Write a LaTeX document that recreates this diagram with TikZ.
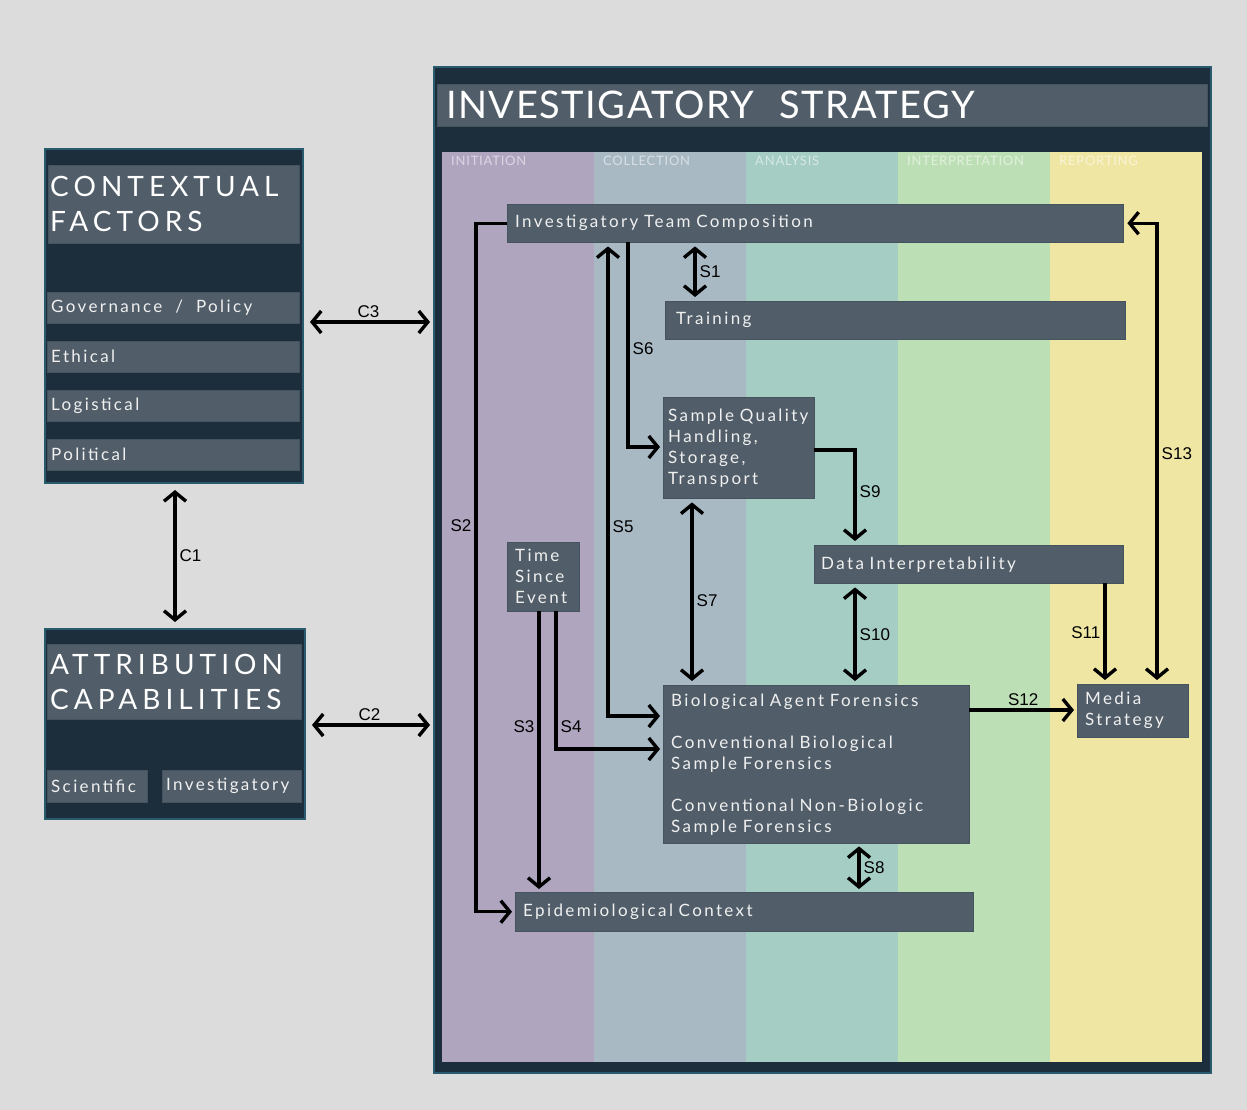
\documentclass[tikz,border=0pt]{standalone}
\usepackage{fontspec}
\setmainfont{Lato}
\newfontfamily\boxfont{Lato}[LetterSpace=14]
\newfontfamily\headfont{Lato}[LetterSpace=18]
\newfontfamily\titlefont{Lato}[LetterSpace=4]
\newfontfamily\phasefont{Lato}[LetterSpace=6]
\newfontfamily\lblfont{Liberation Sans}
\usepackage{tikz}
\usetikzlibrary{arrows.meta}

\definecolor{bggray}{HTML}{DCDCDC}
\definecolor{navy}{HTML}{1C2D3C}
\definecolor{navyedge}{HTML}{2A5A6E}
\definecolor{slate}{HTML}{515E69}
\definecolor{slateedge}{HTML}{45535E}
\definecolor{boxtext}{HTML}{F0F0F0}
\definecolor{colinit}{HTML}{AFA5BF}
\definecolor{colcoll}{HTML}{A8B9C4}
\definecolor{colanal}{HTML}{A5CDC4}
\definecolor{colinterp}{HTML}{BDDFB5}
\definecolor{colrep}{HTML}{F0E6A4}

\begin{document}
\begin{tikzpicture}[x=1pt, y=-1pt]
\tikzstyle{panel} = [draw=navyedge, line width=2pt, fill=navy, anchor=north west, inner sep=0pt]
\tikzstyle{box} = [draw=slateedge, fill=slate, text=boxtext, anchor=north west, inner xsep=8pt, inner ysep=0pt, align=left, font=\boxfont\fontsize{17}{21}\selectfont]
\tikzstyle{head} = [box, text=white, inner xsep=2pt, font=\headfont\fontsize{28}{35}\selectfont]
\tikzstyle{item} = [box, inner xsep=4pt]
\tikzstyle{lbl} = [font=\lblfont\fontsize{17}{17}\selectfont, inner sep=3pt]
\tikzstyle{collabel} = [anchor=west, inner sep=0pt, text=white, text opacity=0.55, font=\phasefont\fontsize{13}{13}\selectfont]
\tikzstyle{arr} = [line width=3.4pt, -{Straight Barb[length=9pt, width=22pt]}]
\tikzstyle{darr} = [line width=3.4pt, {Straight Barb[length=9pt, width=22pt]}-{Straight Barb[length=9pt, width=22pt]}]

\fill[bggray] (0,0) rectangle (1247,1110);
\useasboundingbox (0,0) rectangle (1247,1110);

\node[panel, minimum width=777, minimum height=1006] (mainpanel) at (433,66) {};
\node[box, text=white, inner xsep=9pt, text width=752, minimum height=42, font=\titlefont\fontsize{38}{38}\selectfont] (title) at (437,84) {INVESTIGATORY\ \ STRATEGY};

\foreach \lbl/\col [count=\i from 0] in {INITIATION/colinit, COLLECTION/colcoll, ANALYSIS/colanal, INTERPRETATION/colinterp, REPORTING/colrep} {
  \fill[\col] (442+152*\i,152) rectangle ++(152,910);
  \node[collabel] (phase\i) at (451+152*\i,161) {\lbl};
}

\node[panel, minimum width=258, minimum height=334] (ctxpanel) at (44,148) {};
\node[head, text width=247, minimum height=78] (ctxhead) at (48,165) {CONTEXTUAL\\FACTORS};
\node[item, text width=244, minimum height=31] (gov) at (47,292) {Governance\hspace{13pt}/\hspace{13pt}Policy};
\node[item, text width=244, minimum height=31] (ethical) at (47,341) {Ethical};
\node[item, text width=244, minimum height=31] (logist) at (47,390) {Logistical};
\node[item, text width=244, minimum height=31] (polit) at (47,439) {Political};

\node[panel, minimum width=260, minimum height=190] (attpanel) at (44,628) {};
\node[head, inner xsep=3pt, text width=248, minimum height=75] (atthead) at (47,644) {ATTRIBUTION\\CAPABILITIES};
\node[item, text width=92, minimum height=32] (scient) at (47,770) {Scientific};
\node[item, text width=131, minimum height=32] (investig) at (162,770) {Investigatory};

\node[box, text width=600, minimum height=38] (team) at (507,204) {Investigatory Team Composition};
\node[box, inner xsep=11pt, text width=438, minimum height=38] (training) at (665,301) {Training};
\node[box, inner xsep=5pt, text width=141, minimum height=101] (sample) at (663,397) {Sample Quality\\Handling,\\Storage,\\Transport};
\node[box, inner xsep=7pt, text width=295, minimum height=38] (data) at (814,545) {Data Interpretability};
\node[box, text width=56, minimum height=69] (time) at (507,542) {Time\\Since\\Event};
\node[box, text width=290, minimum height=158] (forens) at (663,685) {Biological Agent Forensics\\[21pt]Conventional Biological\\Sample Forensics\\[21pt]Conventional Non-Biologic\\Sample Forensics};
\node[box, text width=95, minimum height=53] (media) at (1077,684) {Media\\Strategy};
\node[box, text width=442, minimum height=39] (epi) at (515,892) {Epidemiological Context};

\draw[darr, shorten <=6pt, shorten >=3pt] (ctxpanel.east |- 0,322) -- (mainpanel.west |- 0,322) node[midway, above, lbl] {C3};
\draw[darr, shorten <=6pt, shorten >=3pt] (attpanel.east |- 0,725) -- (mainpanel.west |- 0,725) node[midway, above, lbl] {C2};
\draw[darr, shorten <=6pt, shorten >=6pt] (ctxpanel.south -| 175,0) -- (attpanel.north -| 175,0) node[midway, right, lbl] {C1};

\draw[darr, shorten <=4pt, shorten >=4pt] (team.south -| 695,0) -- (training.north -| 695,0) node[midway, right, lbl] {S1};
\draw[arr, shorten >=3pt] (team.west) -- (476,0 |- team.west) -- node[pos=0.44, left, lbl] {S2} (476,0 |- epi.west) -- (epi.west);
\draw[arr, shorten >=3pt] (time.south -| 539,0) -- (epi.north -| 539,0) node[pos=0.41, left, lbl] {S3};
\draw[arr, shorten >=3pt] (time.south -| 556,0) -- node[pos=0.84, right, lbl] {S4} (556,749) -- (forens.west |- 0,749);
\draw[darr, shorten <=3pt, shorten >=4pt] (forens.west |- 0,716) -| (608,0 |- team.south) node[pos=0.7, right, lbl] {S5};
\draw[arr, shorten >=3pt] (team.south -| 628,0) |- (sample.west |- 0,447) node[pos=0.26, right, lbl] {S6};
\draw[darr, shorten <=4pt, shorten >=4pt] (sample.south -| 692,0) -- (forens.north -| 692,0) node[pos=0.55, right, lbl] {S7};
\draw[darr, shorten <=3pt, shorten >=3pt] (forens.south -| 859,0) -- (epi.north -| 859,0) node[midway, right, lbl] {S8};
\draw[arr, shorten >=4pt] (sample.east |- 0,450) -| (data.north -| 855,0) node[pos=0.72, right, lbl] {S9};
\draw[darr, shorten <=4pt, shorten >=4pt] (data.south -| 855,0) -- (forens.north -| 855,0) node[midway, right, lbl] {S10};
\draw[arr, shorten >=4pt] (data.south -| 1105,0) -- (media.north -| 1105,0) node[pos=0.49, left, lbl] {S11};
\draw[arr, shorten >=3pt] (forens.east |- 0,710) -- (media.west |- 0,710) node[midway, above, lbl] {S12};
\draw[darr, shorten <=4pt, shorten >=4pt] (media.north -| 1157,0) |- (team.east) node[pos=0.25, right, lbl] {S13};
\end{tikzpicture}
\end{document}
